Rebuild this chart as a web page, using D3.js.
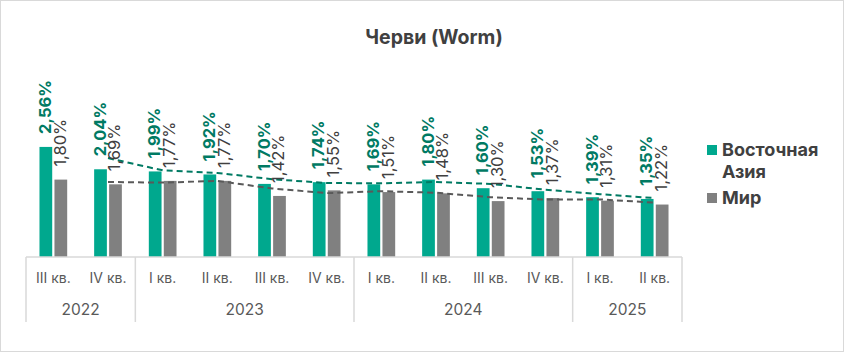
<!DOCTYPE html>
<html>
<head>
<meta charset="utf-8">
<style>
  body { margin: 0; background: #fff; }
  svg { display: block; font-family: "Inter", "Noto Sans", sans-serif; }
</style>
</head>
<body>
<div id="chart"></div>
<script src="https://cdn.jsdelivr.net/npm/d3@7"></script>
<script>
// quarters and years
var quarters = ["III кв.", "IV кв.", "I кв.", "II кв.", "III кв.", "IV кв.",
                "I кв.", "II кв.", "III кв.", "IV кв.", "I кв.", "II кв."];
var years = ["2022", "2022", "2023", "2023", "2023", "2023",
             "2024", "2024", "2024", "2024", "2025", "2025"];
var seriesNames = ["Восточная Азия", "Мир"];
var asia = [2.56, 2.04, 1.99, 1.92, 1.70, 1.74, 1.69, 1.80, 1.60, 1.53, 1.39, 1.35];
var world = [1.80, 1.69, 1.77, 1.77, 1.42, 1.55, 1.51, 1.48, 1.30, 1.37, 1.31, 1.22];

var W = 844, H = 352;
var barColors = ["#00a88e", "#808080"];
var labelColors = ["#007a63", "#404040"];
var trendColors = ["#007a63", "#595959"];

var svg = d3.select("#chart").append("svg")
    .attr("width", W).attr("height", H);

// outer frame
svg.append("rect")
    .attr("x", 0.5).attr("y", 0.5)
    .attr("width", W - 1).attr("height", H - 1)
    .attr("fill", "#fff").attr("stroke", "#d9d9d9");

svg.append("text")
    .attr("x", 434).attr("y", 44)
    .attr("text-anchor", "middle")
    .attr("font-size", 19.5).attr("font-weight", 700)
    .attr("fill", "#404040")
    .text("Черви (Worm)");

var idx = d3.range(quarters.length);
var x0 = d3.scaleBand().domain(idx).range([26, 682]);
var x1 = d3.scaleBand().domain([0, 1]).range([0, x0.bandwidth()])
    .paddingInner(0.15).paddingOuter(0.9);
var y = d3.scaleLinear().domain([0, 4.5]).range([257, 257 - 4.5 * 43]);

var series = [asia, world];

// bars
series.forEach(function(vals, s) {
  svg.append("g").selectAll("rect")
      .data(vals)
    .enter().append("rect")
      .attr("x", function(d, i) { return x0(i) + x1(s); })
      .attr("y", function(d) { return y(d); })
      .attr("width", x1.bandwidth())
      .attr("height", function(d) { return y(0) - y(d); })
      .attr("fill", barColors[s]);
});

// 2-period moving average trendlines
var line = d3.line()
    .x(function(d) { return x0(d.i) + x0.bandwidth() / 2; })
    .y(function(d) { return y(d.v); });
series.forEach(function(vals, s) {
  var ma = [];
  for (var i = 1; i < vals.length; i++) ma.push({i: i, v: (vals[i] + vals[i - 1]) / 2});
  svg.append("path")
      .datum(ma)
      .attr("d", line)
      .attr("fill", "none")
      .attr("stroke", trendColors[s])
      .attr("stroke-width", 2)
      .attr("stroke-dasharray", "6,4");
});

// data labels
series.forEach(function(vals, s) {
  svg.append("g").selectAll("text")
      .data(vals)
    .enter().append("text")
      .attr("transform", function(d, i) {
        var cx = x0(i) + x1(s) + x1.bandwidth() / 2 + 0.5;
        return "translate(" + cx + "," + (y(d) - 13) + ") rotate(-90)";
      })
      .attr("dominant-baseline", "middle")
      .attr("font-size", 16.5)
      .attr("font-weight", s === 0 ? 700 : 400)
      .attr("fill", labelColors[s])
      .text(function(d) { return d.toFixed(2).replace(".", ",") + "%"; });
});

// category axis
var axisColor = "#d9d9d9";
svg.append("line")
    .attr("x1", 26).attr("x2", 682).attr("y1", 257).attr("y2", 257)
    .attr("stroke", axisColor).attr("stroke-width", 1.5);

svg.append("g").selectAll("text")
    .data(quarters)
  .enter().append("text")
    .attr("x", function(d, i) { return x0(i) + x0.bandwidth() / 2; })
    .attr("y", 279)
    .attr("text-anchor", "middle")
    .attr("dominant-baseline", "middle")
    .attr("font-size", 14)
    .attr("fill", "#595959")
    .text(function(d) { return d; });

var groups = [];
years.forEach(function(yr, i) {
  var g = groups[groups.length - 1];
  if (g && g.year === yr) g.end = i;
  else groups.push({year: yr, start: i, end: i});
});

var bounds = [x0(0)].concat(groups.map(function(g) { return x0(g.end) + x0.bandwidth(); }));
svg.append("g").selectAll("line")
    .data(bounds)
  .enter().append("line")
    .attr("x1", function(d) { return d; }).attr("x2", function(d) { return d; })
    .attr("y1", 257).attr("y2", 322)
    .attr("stroke", axisColor).attr("stroke-width", 1.5);

svg.append("g").selectAll("text")
    .data(groups)
  .enter().append("text")
    .attr("x", function(g) { return (x0(g.start) + x0(g.end) + x0.bandwidth()) / 2; })
    .attr("y", 311)
    .attr("text-anchor", "middle")
    .attr("dominant-baseline", "middle")
    .attr("font-size", 15.5)
    .attr("fill", "#595959")
    .text(function(g) { return g.year; });

// legend
var legend = svg.append("g").attr("transform", "translate(707,0)");
var legendRows = [{y: 150, lines: ["Восточная", "Азия"]}, {y: 198, lines: ["Мир"]}];
legendRows.forEach(function(r, s) {
  legend.append("rect")
      .attr("x", 0).attr("y", r.y - 5)
      .attr("width", 10).attr("height", 10)
      .attr("fill", barColors[s]);
  legend.append("text")
      .attr("x", 15).attr("y", r.y)
      .attr("font-size", 18).attr("font-weight", 700)
      .attr("fill", "#404040")
      .selectAll("tspan")
      .data(r.lines)
    .enter().append("tspan")
      .attr("x", 15)
      .attr("dy", function(d, i) { return i === 0 ? "0.35em" : 22; })
      .text(function(d) { return d; });
});
</script>
</body>
</html>
